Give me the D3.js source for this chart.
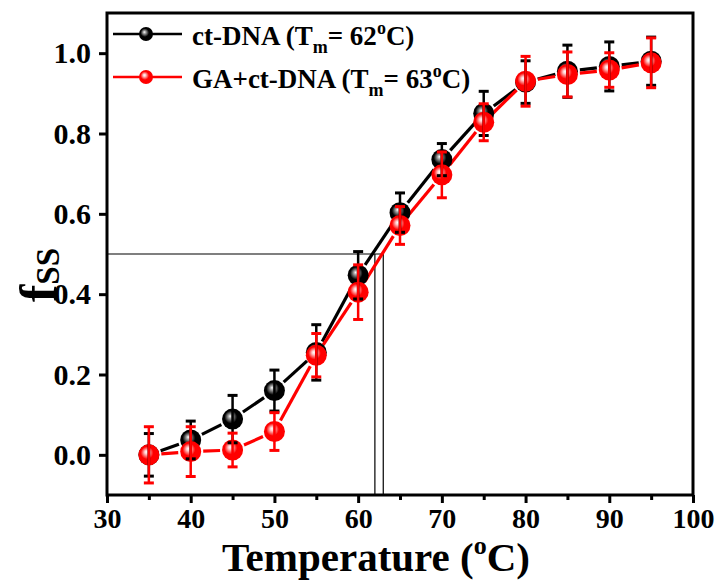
<!DOCTYPE html>
<html>
<head>
<meta charset="utf-8">
<script src="https://cdn.jsdelivr.net/npm/d3@7"></script>
<style>
body { margin: 0; background: #fff; }
text { font-family: "Liberation Serif", "Times New Roman", serif; font-weight: bold; fill: #000; }
</style>
</head>
<body>
<svg width="717" height="580"></svg>
<script>
// temperatures (x) and fraction single stranded (y)
var temps = [35, 40, 45, 50, 55, 60, 65, 70, 75, 80, 85, 90, 95];
var ctDNA = [0.000, 0.037, 0.089, 0.160, 0.255, 0.447, 0.603, 0.735, 0.850, 0.928, 0.955, 0.967, 0.980];
var ctDNAErr = [0.053, 0.047, 0.059, 0.051, 0.069, 0.059, 0.049, 0.040, 0.055, 0.053, 0.065, 0.061, 0.060];
var gaDNA = [0.000, 0.008, 0.012, 0.058, 0.248, 0.405, 0.571, 0.697, 0.828, 0.930, 0.947, 0.958, 0.976];
var gaDNAErr = [0.070, 0.062, 0.042, 0.047, 0.054, 0.068, 0.047, 0.057, 0.046, 0.062, 0.056, 0.043, 0.062];
var xTicks = [30, 40, 50, 60, 70, 80, 90, 100];
var xMinor = [35, 45, 55, 65, 75, 85, 95];
var yTicks = [0.0, 0.2, 0.4, 0.6, 0.8, 1.0];
var tmLines = [62, 63];

var series = [
    { name: "ct-DNA", tm: "62", color: "#000", hi: "#aaa", ys: ctDNA, err: ctDNAErr },
    { name: "GA+ct-DNA", tm: "63", color: "#f00", hi: "#fcc", ys: gaDNA, err: gaDNAErr }
];

var pLeft = 107, pRight = 693, pTop = 13, pBottom = 495;
var svg = d3.select("svg");

var x = d3.scaleLinear().domain([30, 100]).range([pLeft, pRight]);
var y = d3.scaleLinear().domain([-0.1, 1.1]).range([pBottom, pTop]);

// gradients for the shiny markers
var defs = svg.append("defs");
series.forEach(function (s, i) {
    var g = defs.append("radialGradient").attr("id", "grad" + i)
        .attr("cx", "45%").attr("cy", "45%").attr("r", "60%")
        .attr("fx", "38%").attr("fy", "36%");
    g.append("stop").attr("offset", "0%").attr("stop-color", "#fff");
    g.append("stop").attr("offset", "15%").attr("stop-color", s.hi);
    g.append("stop").attr("offset", "50%").attr("stop-color", s.color);
    g.append("stop").attr("offset", "100%").attr("stop-color", s.color);
});

// axes
svg.append("g").attr("class", "xax").attr("transform", "translate(0," + pBottom + ")")
    .call(d3.axisBottom(x).tickValues(xTicks).tickSize(8).tickPadding(5).tickFormat(d3.format("d")));
svg.append("g").attr("transform", "translate(0," + pBottom + ")")
    .call(d3.axisBottom(x).tickValues(xMinor).tickSize(5).tickFormat(""));
svg.append("g").attr("class", "yax").attr("transform", "translate(" + pLeft + ",0)")
    .call(d3.axisLeft(y).tickValues(yTicks).tickSize(8).tickPadding(8).tickFormat(d3.format(".1f")));
svg.selectAll(".domain").remove();
svg.selectAll(".tick line").attr("stroke", "#000").attr("stroke-width", 3);
svg.selectAll(".tick text").attr("font-size", null).attr("font-family", null);
svg.selectAll(".yax .tick text").style("font-size", "30px");
svg.selectAll(".xax .tick text").style("font-size", "28px");

// Tm guide lines
svg.append("line").attr("x1", pLeft).attr("x2", x(d3.max(tmLines)))
    .attr("y1", y(0.5)).attr("y2", y(0.5)).attr("stroke", "#000").attr("stroke-width", 1.2);
svg.selectAll(".tm").data(tmLines).enter().append("line")
    .attr("x1", function (d) { return x(d); }).attr("x2", function (d) { return x(d); })
    .attr("y1", y(0.5)).attr("y2", pBottom).attr("stroke", "#000").attr("stroke-width", 1.2);

var R = 10.5, GAP = R + 2;

// connecting lines with a gap to the symbols
series.forEach(function (s) {
    var segs = [];
    for (var i = 0; i < temps.length - 1; i++) {
        var x1 = x(temps[i]), y1 = y(s.ys[i]), x2 = x(temps[i + 1]), y2 = y(s.ys[i + 1]);
        var len = Math.hypot(x2 - x1, y2 - y1);
        if (len <= 2 * GAP) continue;
        var ux = (x2 - x1) / len, uy = (y2 - y1) / len;
        segs.push([x1 + ux * GAP, y1 + uy * GAP, x2 - ux * GAP, y2 - uy * GAP]);
    }
    svg.append("g").selectAll("line").data(segs).enter().append("line")
        .attr("x1", function (d) { return d[0]; }).attr("y1", function (d) { return d[1]; })
        .attr("x2", function (d) { return d[2]; }).attr("y2", function (d) { return d[3]; })
        .attr("stroke", s.color).attr("stroke-width", 3.2);
});

// markers
series.forEach(function (s, si) {
    svg.append("g").selectAll("circle").data(temps).enter().append("circle")
        .attr("cx", function (d) { return x(d); })
        .attr("cy", function (d, i) { return y(s.ys[i]); })
        .attr("r", R)
        .attr("fill", "url(#grad" + si + ")");
});

// error bars
series.forEach(function (s) {
    var g = svg.append("g").attr("stroke", s.color).attr("stroke-width", 2.5);
    temps.forEach(function (t, i) {
        var cx = x(t), yt = y(s.ys[i] + s.err[i]), yb = y(s.ys[i] - s.err[i]);
        g.append("line").attr("x1", cx).attr("x2", cx).attr("y1", yt).attr("y2", yb);
        g.append("line").attr("x1", cx - 5).attr("x2", cx + 5).attr("y1", yt).attr("y2", yt).attr("stroke-width", 3);
        g.append("line").attr("x1", cx - 5).attr("x2", cx + 5).attr("y1", yb).attr("y2", yb).attr("stroke-width", 3);
    });
});

// frame
svg.append("rect").attr("x", pLeft).attr("y", pTop).attr("width", pRight - pLeft).attr("height", pBottom - pTop)
    .attr("fill", "none").attr("stroke", "#000").attr("stroke-width", 3);

// legend
series.forEach(function (s, i) {
    var ly = 34 + i * 43;
    svg.append("line").attr("x1", 113).attr("x2", 182).attr("y1", ly).attr("y2", ly)
        .attr("stroke", s.color).attr("stroke-width", 2.5);
    svg.append("circle").attr("cx", 146).attr("cy", ly).attr("r", 7).attr("fill", "url(#grad" + i + ")");
    var t = svg.append("text").attr("x", 192).attr("y", ly + 11).style("font-size", "27px");
    t.append("tspan").text(s.name + " (T");
    t.append("tspan").attr("dy", 8).style("font-size", "18px").text("m");
    t.append("tspan").attr("dy", -8).text("= " + s.tm);
    t.append("tspan").attr("dy", -11).style("font-size", "18px").text("o");
    t.append("tspan").attr("dy", 11).text("C)");
});

// axis titles
var xt = svg.append("text").attr("x", 376).attr("y", 571).attr("text-anchor", "middle").style("font-size", "41px");
xt.append("tspan").text("Temperature (");
xt.append("tspan").attr("dy", -17).style("font-size", "26px").text("o");
xt.append("tspan").attr("dy", 17).text("C)");

var yt = svg.append("text").attr("transform", "translate(56,302) rotate(-90)").style("font-size", "52px");
yt.append("tspan").text("f");
yt.append("tspan").attr("dy", 3).style("font-size", "33px").text("SS");
</script>
</body>
</html>
